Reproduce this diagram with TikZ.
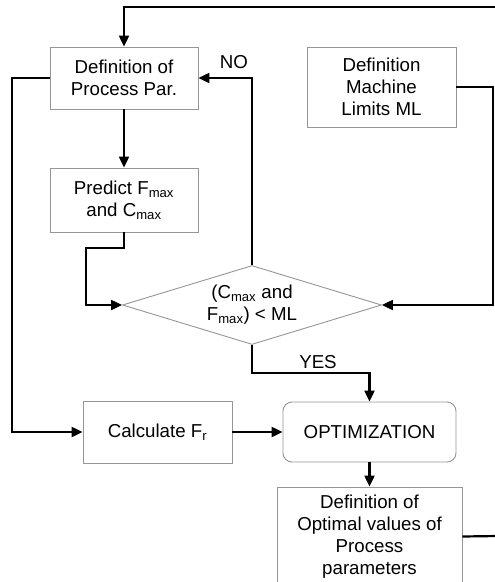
\documentclass[tikz,border=0pt]{standalone}
\usepackage{fontspec}
\setmainfont{Liberation Sans}
\usetikzlibrary{shapes.geometric,arrows.meta}
\definecolor{boxgray}{RGB}{150,150,150}
\tikzset{
  box/.style={draw=boxgray, line width=0.9pt, fill=white, align=center, inner sep=0pt,
    font=\fontsize{18.7}{22}\selectfont},
  conn/.style={line width=2.2pt, draw=black},
  arr/.style={conn, -{Triangle[length=11pt,width=10pt]}},
  lbl/.style={font=\fontsize{18.7}{22}\selectfont, inner sep=0pt}
}
\newcommand{\sbs}[1]{\textsubscript{#1}}
\begin{document}
\begin{tikzpicture}[x=1pt,y=-1pt]
\useasboundingbox (0,0) rectangle (495,582);
\node[box, minimum width=148pt, minimum height=62pt] (proc) at (124,78) {Definition of\\Process Par.};
\node[box, minimum width=149pt, minimum height=80pt] (ml) at (381.5,87) {Definition\\Machine\\Limits ML};
\node[box, minimum width=148pt, minimum height=64pt] (pred) at (124,200) {Predict F\sbs{max}\\and C\sbs{max}};
\node[box, diamond, aspect=3.28, minimum width=259pt, minimum height=79pt] (dia) at (252,305) {(C\sbs{max} and\\F\sbs{max}) < ML};
\node[box, minimum width=149pt, minimum height=62pt] (calc) at (157.5,432) {Calculate F\sbs{r}};
\node[box, rounded corners=9pt, minimum width=173pt, minimum height=60pt] (opt) at (369.5,432) {OPTIMIZATION};
\node[box, minimum width=185pt, minimum height=99pt] (dov) at (369.5,536.5) {Definition of\\Optimal values of\\Process\\parameters};
\coordinate (topR) at (498,7);
\coordinate (outR) at (498,536);
\coordinate (predK) at (86,248);
\coordinate (yesK) at (252,373);
\coordinate (mlK) at (493,87);
\coordinate (leftK) at (12,78);
\draw[arr] (topR) -| (proc.north);
\draw[arr] (proc.west) -- (leftK) |- (calc.west);
\draw[arr] (proc.south) -- (pred.north);
\draw[arr] (pred.south) |- (predK) |- (dia.west);
\draw[arr] (dia.north) |- (proc.east);
\draw[arr] (ml.east) -- (mlK) |- (dia.east);
\draw[arr] (dia.south) -- (yesK) -| (opt.north);
\draw[arr] (calc.east) -- (opt.west);
\draw[arr] (opt.south) -- (dov.north);
\draw[conn] (dov.east) -- (outR);
\node[lbl] (no) at (234,62) {NO};
\node[lbl] (yes) at (318,362) {YES};
\end{tikzpicture}
\end{document}
